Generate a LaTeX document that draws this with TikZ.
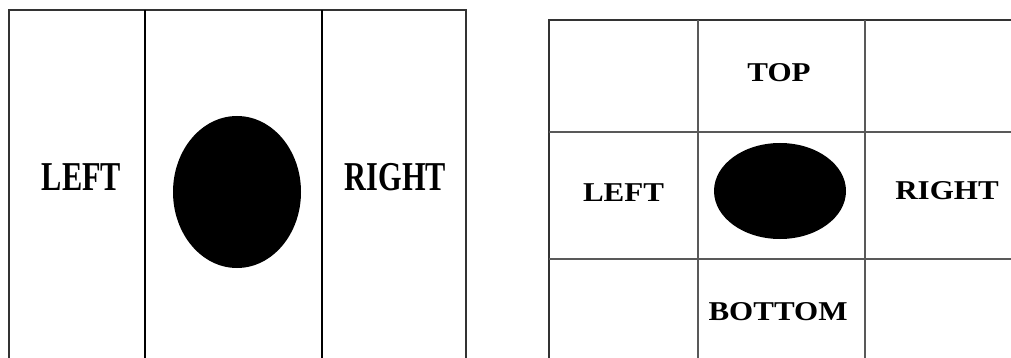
\documentclass[tikz,border=0pt]{standalone}
\usepackage{fontspec}
\setmainfont{Liberation Serif}
\begin{document}
\begin{tikzpicture}[x=1pt,y=-1pt,
  outer/.style={draw=black!80,line width=2pt},
  inner/.style={draw=black,line width=1.4pt},
  grid/.style={draw=black!65,line width=1.6pt},
  bigtxt/.style={anchor=base,inner sep=0pt,font=\fontsize{41}{41}\selectfont\bfseries,xscale=0.74},
  smalltxt/.style={anchor=base,inner sep=0pt,font=\fontsize{27.2}{27.2}\selectfont\bfseries,xscale=1.14}]
\useasboundingbox (0,0) rectangle (1011,358);
\clip (0,0) rectangle (1011,358);
% left panel
\draw[outer] (9,365) -- (9,10) -- (466,10) -- (466,365);
\draw[inner] (145,10) -- (145,365);
\draw[inner] (322,10) -- (322,365);
\fill[black] (237,192) ellipse [x radius=64, y radius=76];
\node[bigtxt] (lleft) at (81.5,190) {LEFT};
\node[bigtxt] (lright) at (395.5,190) {RIGHT};
% right panel
\draw[outer] (549,365) -- (549,20) -- (1015,20);
\draw[grid] (698,20) -- (698,365);
\draw[grid] (865,20) -- (865,365);
\draw[grid] (549,132) -- (1015,132);
\draw[grid] (549,259) -- (1015,259);
\fill[black] (780,191) ellipse [x radius=66, y radius=48];
\node[smalltxt] (rtop) at (779,82) {TOP};
\node[smalltxt] (rleft) at (623.5,201) {LEFT};
\node[smalltxt] (rright) at (947,200) {RIGHT};
\node[smalltxt] (rbottom) at (778,320) {BOTTOM};
\end{tikzpicture}
\end{document}
